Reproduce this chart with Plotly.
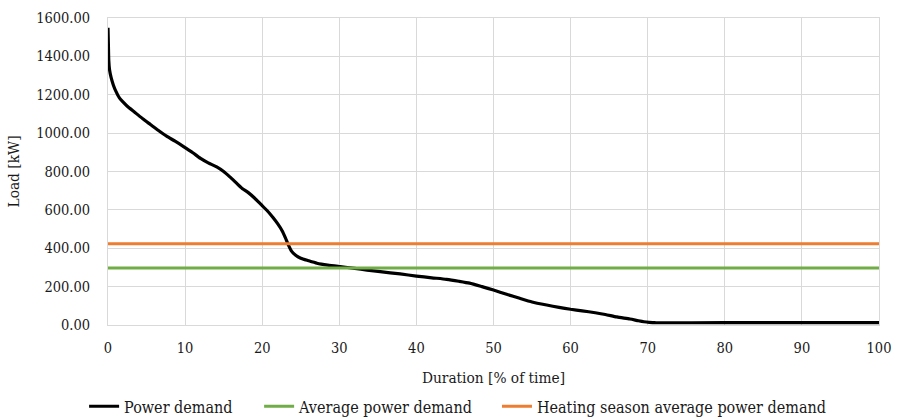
import plotly.graph_objects as go

duration = [0, 0.05, 0.1, 0.2, 0.4, 0.7, 1.0, 1.5, 2.0, 2.5, 3.5, 4.5, 5.5, 6.5, 7.6, 8.7, 9.8,
            11.0, 12.0, 13.0, 14.1, 15.0, 15.8, 16.6, 17.4, 18.2, 19.0, 19.8, 20.6, 21.4, 22.0,
            22.6, 23.0, 23.4, 23.8, 24.3, 25.0, 26.0, 27.1, 28.5, 30.1, 32.0, 33.6, 35.3, 37.9,
            40.0, 42.0, 43.9, 45.5, 46.9, 48.5, 50.0, 51.7, 53.4, 55.0, 56.9, 58.5, 60.0, 61.5,
            63.2, 64.5, 66.0, 67.7, 68.8, 69.5, 70.2, 71.0, 80.0, 90.0, 100.0]
load = [1549, 1460, 1380, 1330, 1290, 1250, 1220, 1182, 1160, 1140, 1108, 1075, 1045, 1015,
        984, 958, 930, 898, 868, 845, 824, 800, 772, 742, 712, 690, 662, 630, 598, 560, 528,
        490, 455, 417, 385, 365, 348, 335, 322, 312, 304, 295, 286, 278, 266, 255, 246, 238,
        228, 218, 200, 182, 160, 139, 120, 104, 92, 82, 74, 64, 55, 42, 31, 22, 17, 14, 12,
        12, 12, 12]
avg_demand = 297
heating_avg_demand = 423
x_span = [0, 100]

FONT = "DejaVu Serif Condensed, DejaVu Serif"
GRID = "#d9d9d9"
TXT = "#1a1a1a"

fig = go.Figure()
fig.add_trace(go.Scatter(x=duration, y=load, mode="lines", name="Power demand", legend="legend",
                         line=dict(color="black", width=3.2, shape="spline", smoothing=0.6)))
fig.add_trace(go.Scatter(x=x_span, y=[avg_demand] * 2, mode="lines", name="Average power demand",
                         legend="legend2", line=dict(color="#70AD47", width=3)))
fig.add_trace(go.Scatter(x=x_span, y=[heating_avg_demand] * 2, mode="lines",
                         name="Heating season average power demand", legend="legend3",
                         line=dict(color="#ED7D31", width=3)))

leg_common = dict(orientation="h", xanchor="left", y=-0.265, yanchor="middle",
                  font=dict(size=16, family=FONT, color=TXT), bgcolor="rgba(0,0,0,0)",
                  itemwidth=30)
fig.update_layout(
    width=898, height=417,
    margin=dict(l=108, r=19, t=18, b=92, autoexpand=False),
    paper_bgcolor="white", plot_bgcolor="white",
    font=dict(family=FONT, size=14.5, color=TXT),
    showlegend=True,
    legend=dict(x=-0.031, **leg_common),
    legend2=dict(x=0.196, **leg_common),
    legend3=dict(x=0.5045, **leg_common),
)
fig.update_xaxes(range=[0, 100], dtick=10, tick0=0, showgrid=True, gridcolor=GRID, gridwidth=1,
                 zeroline=False, showline=True, linecolor=GRID, linewidth=1, mirror=True,
                 ticks="outside", ticklen=10, tickcolor="rgba(0,0,0,0)",
                 title=dict(text="Duration [% of time]", font=dict(size=15.3, family=FONT), standoff=16),
                 automargin=False)
fig.update_yaxes(range=[0, 1600], dtick=200, tick0=0, tickformat=".2f", showgrid=True,
                 gridcolor=GRID, gridwidth=1, zeroline=False, showline=True, linecolor=GRID,
                 mirror=True, ticks="outside", ticklen=14, tickcolor="rgba(0,0,0,0)",
                 title=dict(text="Load [kW]", font=dict(size=15.3, family=FONT), standoff=12),
                 automargin=False)

fig.write_html("out.html")
